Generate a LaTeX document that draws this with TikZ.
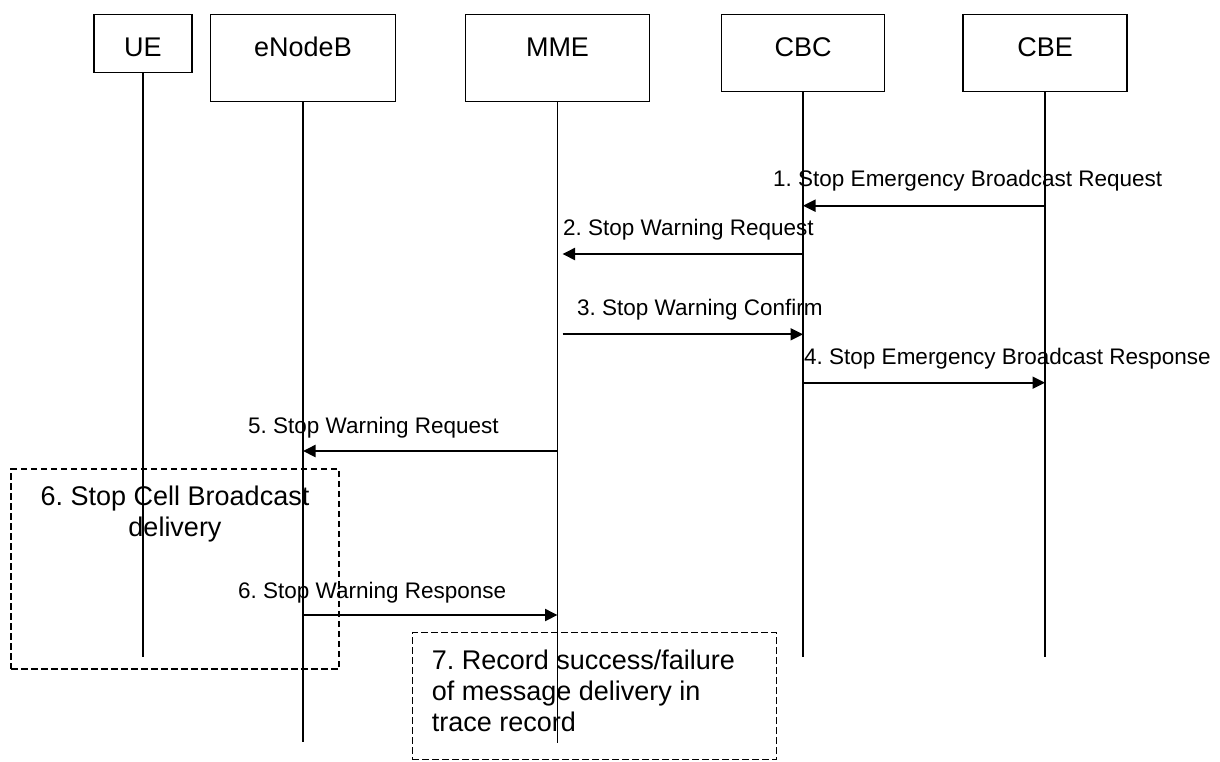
\documentclass[tikz,border=0pt]{standalone}
\usepackage{fontspec}
\setmainfont{Liberation Sans}
\usetikzlibrary{arrows.meta}
\frenchspacing
\begin{document}
\begin{tikzpicture}[x=1pt,y=-1pt,
  actor/.style={draw, line width=1.3pt, inner xsep=0pt, inner ysep=0pt, anchor=north,
    font=\fontsize{27}{31}\selectfont, text height=41.5pt},
  life/.style={line width=1.4pt},
  msg/.style={line width=2pt, -{Triangle[length=12.5pt,width=12pt]}},
  lbl/.style={anchor=base west, inner sep=0pt, font=\fontsize{22.5}{27}\selectfont},
  note/.style={draw, line width=1.3pt, dash pattern=on 6.5pt off 3.5pt, inner sep=0pt},
  notetext/.style={inner sep=0pt, font=\fontsize{27}{31}\selectfont}]
\useasboundingbox (0,0) rectangle (1220,761);

% actors
\node[actor, minimum width=98pt, text depth=16.5pt] (ue) at (143,14) {UE};
\node[actor, minimum width=184.5pt, text depth=45.5pt] (enb) at (303,14) {eNodeB};
\node[actor, minimum width=184.5pt, text depth=45.5pt] (mme) at (557.5,14) {MME};
\node[actor, minimum width=163.5pt, text depth=35.5pt] (cbc) at (803,14) {CBC};
\node[actor, minimum width=164pt, text depth=35.5pt] (cbe) at (1045,14) {CBE};

% lifeline ends
\coordinate (ueE) at (143,657);
\coordinate (enbE) at (303,742);
\coordinate (mmeE) at (557.5,743);
\coordinate (cbcE) at (803,657);
\coordinate (cbeE) at (1045,657);
\coordinate (mmeR) at ([xshift=5pt]mme.south);

\draw[life] (ue.south) -- (ueE);
\draw[life] (enb.south) -- (enbE);
\draw[life] (mme.south) -- (mmeE);
\draw[life] (cbc.south) -- (cbcE);
\draw[life] (cbe.south) -- (cbeE);

% notes
\node[note, minimum width=328pt, minimum height=200pt] (n6) at (175,569) {};
\node[note, minimum width=364.4pt, minimum height=126.8pt] (n7) at (594.5,696.1) {};
\node[notetext, align=center, anchor=north] (t6) at (175,485.4) {6. Stop Cell Broadcast\\delivery};
\node[notetext, align=left, anchor=north west] (t7) at (431.7,650.2) {7. Record success/failure\\of message delivery in\\trace record};

% messages
\draw[msg] (cbe.south |- 0,205.7) -- (cbc.south |- 0,205.7);
\node[lbl] (l1) at (773,186) {1. Stop Emergency Broadcast Request};
\draw[msg] (cbc.south |- 0,254) -- (mmeR |- 0,254);
\node[lbl] (l2) at (563,235.5) {2. Stop Warning Request};
\draw[msg] (mmeR |- 0,334.3) -- (cbc.south |- 0,334.3);
\node[lbl] (l3) at (577,315.5) {3. Stop Warning Confirm};
\draw[msg] (cbc.south |- 0,382.7) -- (cbe.south |- 0,382.7);
\node[lbl] (l4) at (804,364.5) {4. Stop Emergency Broadcast Response};
\draw[msg] (mme.south |- 0,451) -- (enb.south |- 0,451);
\node[lbl] (l5) at (248,433) {5. Stop Warning Request};
\draw[msg] (enb.south |- 0,615) -- (mme.south |- 0,615);
\node[lbl] (l6) at (238,598.5) {6. Stop Warning Response};
\end{tikzpicture}
\end{document}
